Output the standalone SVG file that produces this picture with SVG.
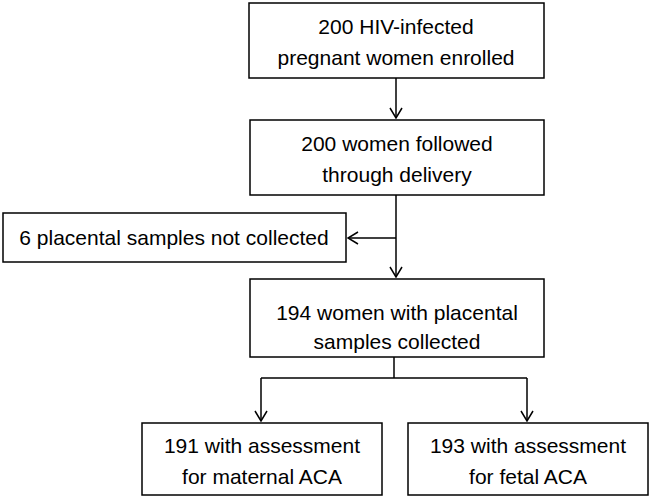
<svg xmlns="http://www.w3.org/2000/svg" width="656" height="500" viewBox="0 0 656 500">
<style>
.box{fill:#fff;stroke:#000;stroke-width:1.5}
.t{font-family:"Liberation Sans",Arial,sans-serif;font-size:21px;fill:#000;text-anchor:middle}
.c{fill:none;stroke:#000;stroke-width:1.5}
</style>
<defs>
<marker id="ah" markerWidth="12" markerHeight="14" refX="11" refY="7" orient="auto" markerUnits="userSpaceOnUse">
<path d="M1,1 L11,7 L1,13" fill="none" stroke="#000" stroke-width="1.5"/>
</marker>
</defs>
<rect width="656" height="500" fill="#fff"/>
<g id="connectors">
<line class="c" x1="396" y1="78" x2="396" y2="118" marker-end="url(#ah)"/>
<line class="c" x1="396" y1="195" x2="396" y2="277" marker-end="url(#ah)"/>
<line class="c" x1="396" y1="238" x2="348" y2="238" marker-end="url(#ah)"/>
<polyline class="c" points="394,357 394,378"/>
<polyline class="c" points="261,378 527,378"/>
<line class="c" x1="261" y1="378" x2="261" y2="421" marker-end="url(#ah)"/>
<line class="c" x1="527" y1="378" x2="527" y2="421" marker-end="url(#ah)"/>
</g>
<g id="n1">
<rect class="box" x="249" y="3" width="295" height="75"/>
<text class="t" x="396" y="34">200 HIV-infected</text>
<text class="t" x="396" y="65">pregnant women enrolled</text>
</g>
<g id="n2">
<rect class="box" x="250" y="120" width="294" height="75"/>
<text class="t" x="397" y="151">200 women followed</text>
<text class="t" x="397" y="182">through delivery</text>
</g>
<g id="n3">
<rect class="box" x="3" y="213" width="343" height="49"/>
<text class="t" x="174" y="245">6 placental samples not collected</text>
</g>
<g id="n4">
<rect class="box" x="250" y="279" width="294" height="78"/>
<text class="t" x="397" y="320">194 women with placental</text>
<text class="t" x="397" y="349">samples collected</text>
</g>
<g id="n5">
<rect class="box" x="142" y="423" width="240" height="72"/>
<text class="t" x="262" y="453">191 with assessment</text>
<text class="t" x="262" y="484">for maternal ACA</text>
</g>
<g id="n6">
<rect class="box" x="408" y="423" width="240" height="72"/>
<text class="t" x="528" y="453">193 with assessment</text>
<text class="t" x="528" y="484">for fetal ACA</text>
</g>
</svg>
